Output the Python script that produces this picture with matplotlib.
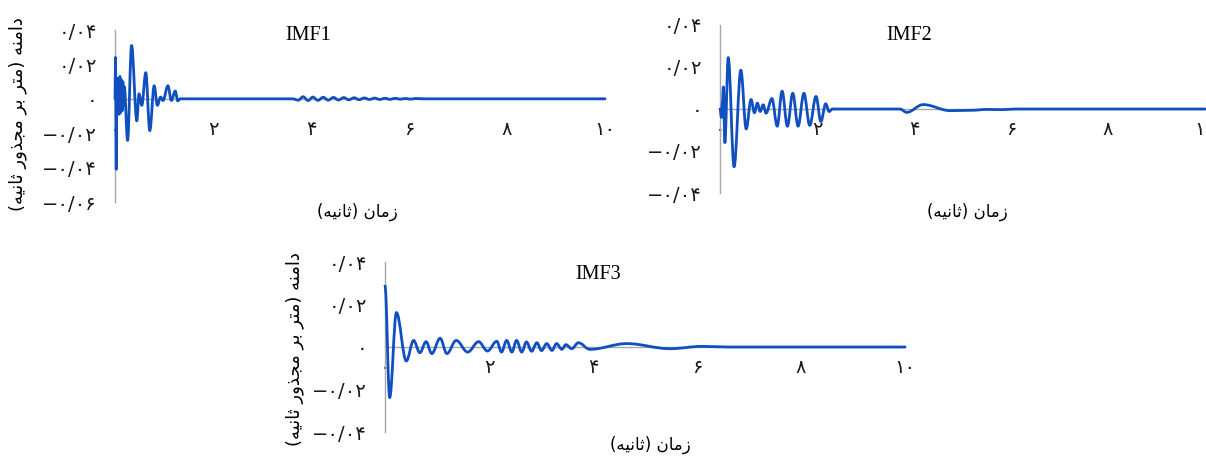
import matplotlib
matplotlib.use("Agg")
import matplotlib.pyplot as plt
from matplotlib.path import Path
from matplotlib.patches import PathPatch

plt.rcParams["font.family"] = ["DejaVu Sans"]

# ──────────────────────────────────────────────────────────────────────
# Data: IMF components (time in s, amplitude in m/s^2), peak/trough points
# ──────────────────────────────────────────────────────────────────────

t_imf1 = [0.0, 0.01, 0.025, 0.04, 0.055, 0.07, 0.085, 0.10, 0.115, 0.13, 0.145,
          0.16, 0.175, 0.19, 0.257, 0.338, 0.446, 0.49, 0.547, 0.628, 0.71,
          0.80, 0.865, 0.93, 0.98, 1.08, 1.15, 1.23, 1.28, 1.33,
          3.62, 3.74, 3.84, 3.94, 4.04, 4.14, 4.25, 4.35, 4.46, 4.56, 4.67,
          4.77, 4.88, 4.98, 5.09, 5.19, 5.30, 5.40, 5.51, 5.61, 5.72, 5.82,
          5.93, 6.03, 6.14, 6.30, 10.0]
v_imf1 = [0.0, 0.024, -0.041, 0.012, -0.008, 0.010, -0.009, 0.013, -0.008, 0.011, -0.007,
          0.010, -0.004, 0.007, -0.0242, 0.031, -0.0128, 0.0029, -0.0038, 0.0152, -0.0185,
          0.0076, -0.0038, 0.0010, -0.0010, 0.0076, -0.0010, 0.0045, -0.0012, 0.0,
          0.0, -0.0008, 0.0012, -0.0010, 0.0010, -0.0009, 0.0009, -0.0008, 0.0008, -0.0007, 0.0007,
          -0.0006, 0.0006, -0.0005, 0.0005, -0.0004, 0.0004, -0.0004, 0.0003, -0.0003, 0.0003, -0.0002,
          0.0002, -0.0002, 0.0002, 0.0, 0.0]

t_imf2 = [0.0, 0.03, 0.05, 0.07, 0.10, 0.17, 0.29, 0.43, 0.54, 0.64, 0.71,
          0.77, 0.83, 0.89, 0.95, 1.07, 1.18, 1.28, 1.39, 1.50, 1.61,
          1.73, 1.85, 1.98, 2.08, 2.18, 2.25, 2.32,
          3.71, 3.85, 4.19, 4.75, 5.2, 5.5, 5.8, 6.1, 6.6, 10.0]
v_imf2 = [0.0, -0.004, 0.003, 0.0105, -0.016, 0.0245, -0.0275, 0.0185, -0.0095, 0.0045, -0.0018,
          0.0028, -0.0012, 0.0020, -0.0020, 0.0050, -0.0082, 0.0085, -0.0082, 0.0075, -0.0082,
          0.0075, -0.0078, 0.0060, -0.0060, 0.0025, -0.0012, 0.0,
          0.0, -0.0016, 0.0021, -0.0008, -0.0006, -0.0002, -0.0003, 0.0, 0.0, 0.0]

t_imf3 = [0.0, 0.09, 0.22, 0.41, 0.55, 0.67, 0.79, 0.90, 1.06, 1.19, 1.37,
          1.59, 1.80, 1.97, 2.15, 2.24, 2.34, 2.44, 2.53, 2.63, 2.72,
          2.82, 2.92, 3.01, 3.11, 3.21, 3.30, 3.40, 3.48, 3.59, 3.72,
          3.94, 4.65, 5.48, 6.10, 6.60, 10.0]
v_imf3 = [0.0287, -0.0238, 0.0162, -0.0066, 0.0031, -0.0027, 0.0025, -0.0031, 0.0041, -0.0031, 0.0031,
          -0.0024, 0.0025, -0.0019, 0.0027, -0.0024, 0.0031, -0.0024, 0.0031, -0.0024, 0.0024,
          -0.0020, 0.0020, -0.0017, 0.0016, -0.0016, 0.0016, -0.0011, 0.0011, -0.0008, 0.0020,
          -0.0011, 0.0016, -0.0008, 0.0003, 0.0, 0.0]

x_ticks = [0, 2, 4, 6, 8, 10]
x_ticklabels = ["۰", "۲", "۴", "۶", "۸", "۱۰"]

y_ticks_wide = [-0.06, -0.04, -0.02, 0.0, 0.02, 0.04]
y_ticklabels_wide = ["−۰/۰۶", "−۰/۰۴", "−۰/۰۲", "۰", "۰/۰۲", "۰/۰۴"]
y_ticks = [-0.04, -0.02, 0.0, 0.02, 0.04]
y_ticklabels = ["−۰/۰۴", "−۰/۰۲", "۰", "۰/۰۲", "۰/۰۴"]

X_LABEL = "زمان (ثانیه)"
Y_LABEL = "دامنه (متر بر مجذور ثانیه)"

LINE_C = "#0F4FBF"
AXIS_C = "#A8A8A8"


# ──────────────────────────────────────────────────────────────────────
# Persian shaping (matplotlib draws glyphs left-to-right, unjoined)
# ──────────────────────────────────────────────────────────────────────

_FORMS = {
    # letter: (isolated, final, initial, medial)
    "ا": ("\uFE8D", "\uFE8E", None, None),
    "ب": ("\uFE8F", "\uFE90", "\uFE91", "\uFE92"),
    "ت": ("\uFE95", "\uFE96", "\uFE97", "\uFE98"),
    "ث": ("\uFE99", "\uFE9A", "\uFE9B", "\uFE9C"),
    "ج": ("\uFE9D", "\uFE9E", "\uFE9F", "\uFEA0"),
    "د": ("\uFEA9", "\uFEAA", None, None),
    "ذ": ("\uFEAB", "\uFEAC", None, None),
    "ر": ("\uFEAD", "\uFEAE", None, None),
    "ز": ("\uFEAF", "\uFEB0", None, None),
    "م": ("\uFEE1", "\uFEE2", "\uFEE3", "\uFEE4"),
    "ن": ("\uFEE5", "\uFEE6", "\uFEE7", "\uFEE8"),
    "ه": ("\uFEE9", "\uFEEA", "\uFEEB", "\uFEEC"),
    "و": ("\uFEED", "\uFEEE", None, None),
    "ی": ("\uFBFC", "\uFBFD", "\uFEF3", "\uFEF4"),
}
_MIRROR = {"(": ")", ")": "("}


def fa(text):
    out = []
    for i, ch in enumerate(text):
        if ch not in _FORMS:
            out.append(_MIRROR.get(ch, ch))
            continue
        prev = text[i - 1] if i > 0 else ""
        nxt = text[i + 1] if i + 1 < len(text) else ""
        join_prev = prev in _FORMS and _FORMS[prev][2] is not None
        join_next = _FORMS[ch][2] is not None and nxt in _FORMS
        iso, fin, ini, med = _FORMS[ch]
        if join_prev and join_next:
            out.append(med)
        elif join_prev:
            out.append(fin)
        elif join_next:
            out.append(ini)
        else:
            out.append(iso)
    return "".join(reversed(out))


# ──────────────────────────────────────────────────────────────────────
# Smoothed trace: cubic Bezier between successive points, flat tangents
# ──────────────────────────────────────────────────────────────────────

def _smooth_path(t, v, k=0.36):
    verts = [(t[0], v[0])]
    codes = [Path.MOVETO]
    for t0, v0, t1, v1 in zip(t[:-1], v[:-1], t[1:], v[1:]):
        dt = t1 - t0
        verts += [(t0 + k * dt, v0), (t1 - k * dt, v1), (t1, v1)]
        codes += [Path.CURVE4] * 3
    return Path(verts, codes)


def _panel(ax, t, v, ylim, yticks, yticklabels, title, title_x, title_y,
           xpad, xlabel_xy, ylabel_xy=None):
    ax.set_xlim(0, 10)
    ax.set_ylim(*ylim)
    ax.add_patch(PathPatch(_smooth_path(t, v), fill=False, edgecolor=LINE_C,
                           lw=2.0, joinstyle="round", capstyle="round",
                           clip_on=False, zorder=3))

    for s in ("top", "right"):
        ax.spines[s].set_visible(False)
    ax.spines["bottom"].set_position(("data", 0))
    for s in ("left", "bottom"):
        ax.spines[s].set_color(AXIS_C)
        ax.spines[s].set_linewidth(1.0)

    ax.set_xticks(x_ticks)
    ax.set_xticklabels(x_ticklabels)
    ax.set_yticks(yticks)
    ax.set_yticklabels(yticklabels)
    ax.tick_params(axis="both", length=0, labelsize=14, colors="#1a1a1a")
    ax.tick_params(axis="x", pad=xpad)
    ax.tick_params(axis="y", pad=13)

    ax.text(title_x, title_y, title, transform=ax.transAxes,
            family="Liberation Serif", fontsize=14.5, ha="center", va="center")
    ax.text(*xlabel_xy, fa(X_LABEL), transform=ax.transAxes,
            fontsize=12, ha="center", va="center")
    if ylabel_xy is not None:
        ax.text(*ylabel_xy, fa(Y_LABEL), transform=ax.transAxes, rotation=90,
                fontsize=13, ha="center", va="center")


W, H = 1206, 457
fig = plt.figure(figsize=(W / 100, H / 100), dpi=100)


def _box(l, r, top, bot):
    # axes rectangle from pixel edges (origin at top-left)
    return [l / W, 1 - bot / H, (r - l) / W, (bot - top) / H]


ax1 = fig.add_axes(_box(115, 605, 30, 202))
ax2 = fig.add_axes(_box(720, 1205, 25, 193))
ax3 = fig.add_axes(_box(385, 905, 262, 432))

_panel(ax1, t_imf1, v_imf1, (-0.06, 0.04), y_ticks_wide, y_ticklabels_wide,
       "IMF1", 0.394, 0.97, 15, (0.494, -0.06), (-0.198, 0.51))
_panel(ax2, t_imf2, v_imf2, (-0.04, 0.04), y_ticks, y_ticklabels,
       "IMF2", 0.39, 0.94, 8, (0.51, -0.11))
_panel(ax3, t_imf3, v_imf3, (-0.04, 0.04), y_ticks, y_ticklabels,
       "IMF3", 0.41, 0.925, 8, (0.51, -0.075), (-0.173, 0.49))

fig.savefig("out.png", dpi=100)
plt.close(fig)
